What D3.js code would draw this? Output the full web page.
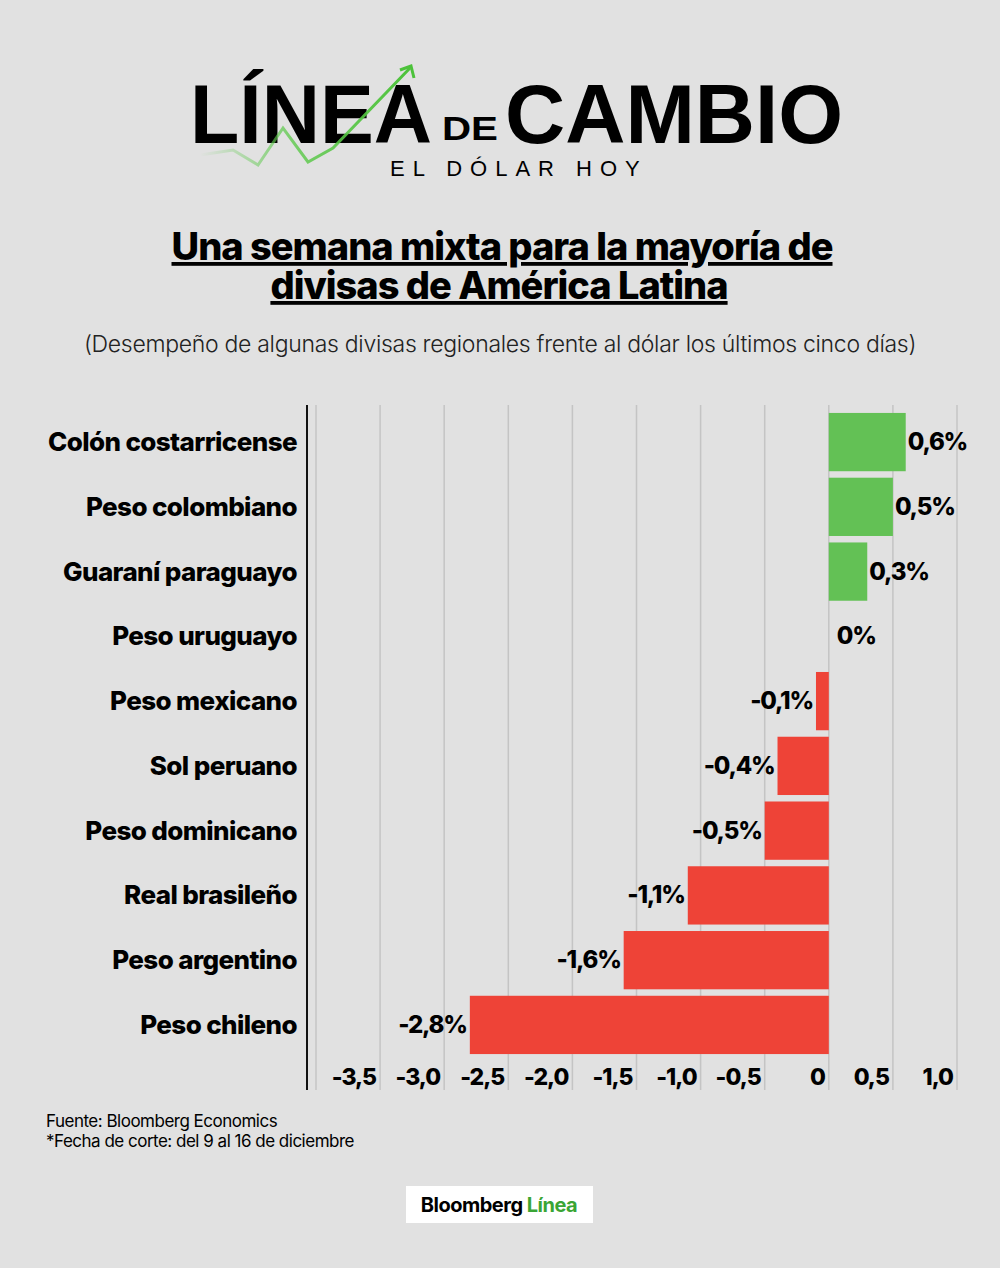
<!DOCTYPE html>
<html><head><meta charset="utf-8">
<script src="https://cdn.jsdelivr.net/npm/d3@7"></script>
<style>body{margin:0;background:#e1e1e1;font-family:Inter,"Open Sans",sans-serif;}</style>
</head><body><div id="chart"></div>
<script>
var categories = ["Colón costarricense","Peso colombiano","Guaraní paraguayo","Peso uruguayo","Peso mexicano","Sol peruano","Peso dominicano","Real brasileño","Peso argentino","Peso chileno"];
var values = [0.6,0.5,0.3,0,-0.1,-0.4,-0.5,-1.1,-1.6,-2.8];
var ticks = [-4,-3.5,-3,-2.5,-2,-1.5,-1,-0.5,0,0.5,1];

var W = 1000, H = 1268;
var svg = d3.select("#chart").append("svg").attr("width",W).attr("height",H);
svg.append("rect").attr("width",W).attr("height",H).attr("fill","#e1e1e1");

// logo
var logo = svg.append("g");
var grad = svg.append("defs").append("linearGradient").attr("id","gl");
grad.append("stop").attr("offset","0%").attr("stop-color","#5cc94a").attr("stop-opacity",0);
grad.append("stop").attr("offset","45%").attr("stop-color","#5cc94a").attr("stop-opacity",0.8);
grad.append("stop").attr("offset","100%").attr("stop-color","#4cc23a");
logo.append("text").attr("x",190).attr("y",143).attr("font-family","Liberation Sans").attr("font-weight",900)
  .attr("font-size",84).attr("textLength",242).attr("lengthAdjust","spacingAndGlyphs").text("LÍNEA");
logo.append("text").attr("x",442).attr("y",140).attr("font-family","Liberation Sans").attr("font-weight",900)
  .attr("font-size",34).attr("textLength",56).attr("lengthAdjust","spacingAndGlyphs").text("DE");
logo.append("text").attr("x",505).attr("y",143).attr("font-family","Liberation Sans").attr("font-weight",900)
  .attr("font-size",84).attr("textLength",338).attr("lengthAdjust","spacingAndGlyphs").text("CAMBIO");
logo.append("text").attr("x",390).attr("y",176).attr("font-family","Liberation Sans")
  .attr("font-size",22).attr("letter-spacing",8).text("EL DÓLAR HOY");
var pts = [[200,155],[233,150],[258,165],[283,128],[308,162],[333,148],[410,68]];
logo.append("path").attr("d",d3.line()(pts)).attr("fill","none").attr("stroke","url(#gl)").attr("stroke-width",3);
logo.append("path").attr("d","M400,70 L411,66 L414,78").attr("fill","none").attr("stroke","#4cc23a").attr("stroke-width",3);

// titles
svg.append("text").attr("x",502).attr("y",260).attr("text-anchor","middle").attr("font-size",38).attr("font-weight",800)
  .attr("letter-spacing",-1).attr("text-decoration","underline").text("Una semana mixta para la mayoría de ");
svg.append("text").attr("x",499).attr("y",299).attr("text-anchor","middle").attr("font-size",38).attr("font-weight",800)
  .attr("letter-spacing",-1).attr("text-decoration","underline").text("divisas de América Latina");
svg.append("text").attr("x",500).attr("y",352).attr("text-anchor","middle").attr("font-size",23).attr("font-weight",300)
  .attr("letter-spacing",-0.3).attr("fill","#222").text("(Desempeño de algunas divisas regionales frente al dólar los últimos cinco días)");

// chart
var x = d3.scaleLinear().domain([-4,1]).range([316,957]);
var y = d3.scaleBand().domain(categories).range([411,1056]).paddingInner(0.1).paddingOuter(0.03);
var g = svg.append("g");
g.selectAll(".grid").data(ticks).enter().append("line")
  .attr("x1",d=>x(d)).attr("x2",d=>x(d)).attr("y1",405).attr("y2",1090)
  .attr("stroke","#c4c4c4").attr("stroke-width",1.5);
g.append("line").attr("x1",307).attr("x2",307).attr("y1",405).attr("y2",1090).attr("stroke","#111").attr("stroke-width",2);

g.selectAll(".bar").data(values).enter().append("rect")
  .attr("x",d=>x(Math.min(0,d))).attr("width",d=>Math.abs(x(d)-x(0)))
  .attr("y",(d,i)=>y(categories[i])).attr("height",y.bandwidth())
  .attr("fill",d=>d>=0?"#63c155":"#ee4337");

g.selectAll(".val").data(values).enter().append("text")
  .attr("x",d=>d>=0?x(d)+(d==0?8:2):x(d)-3).attr("y",(d,i)=>y(categories[i])+y.bandwidth()/2+8)
  .attr("text-anchor",d=>d>=0?"start":"end").attr("font-size",24).attr("font-weight",800).attr("letter-spacing",-1.2)
  .text(d=>String(d).replace(".",",")+"%");

g.selectAll(".cat").data(categories).enter().append("text")
  .attr("x",297).attr("y",d=>y(d)+y.bandwidth()/2+9).attr("text-anchor","end")
  .attr("font-size",26).attr("font-weight",800).attr("letter-spacing",-0.6).text(d=>d);

g.selectAll(".tick").data(ticks.slice(1)).enter().append("text")
  .attr("x",d=>x(d)-4).attr("y",1085).attr("text-anchor","end")
  .attr("font-size",23).attr("font-weight",800).attr("letter-spacing",-1)
  .text(d=>d==0?"0":d3.format(".1f")(d).replace("−","-").replace(".",","));

svg.append("text").attr("x",46).attr("y",1127).attr("font-size",17).attr("letter-spacing",-0.5).text("Fuente: Bloomberg Economics");
svg.append("text").attr("x",46).attr("y",1147).attr("font-size",17).attr("letter-spacing",-0.5).text("*Fecha de corte: del 9 al 16 de diciembre");

svg.append("rect").attr("x",406).attr("y",1186).attr("width",187).attr("height",37).attr("fill","#fff");
var bl = svg.append("text").attr("x",499).attr("y",1212).attr("text-anchor","middle").attr("font-size",20).attr("font-weight",700).attr("letter-spacing",-0.5);
bl.append("tspan").text("Bloomberg ");
bl.append("tspan").attr("fill","#3aa535").text("Línea");
</script></body></html>
